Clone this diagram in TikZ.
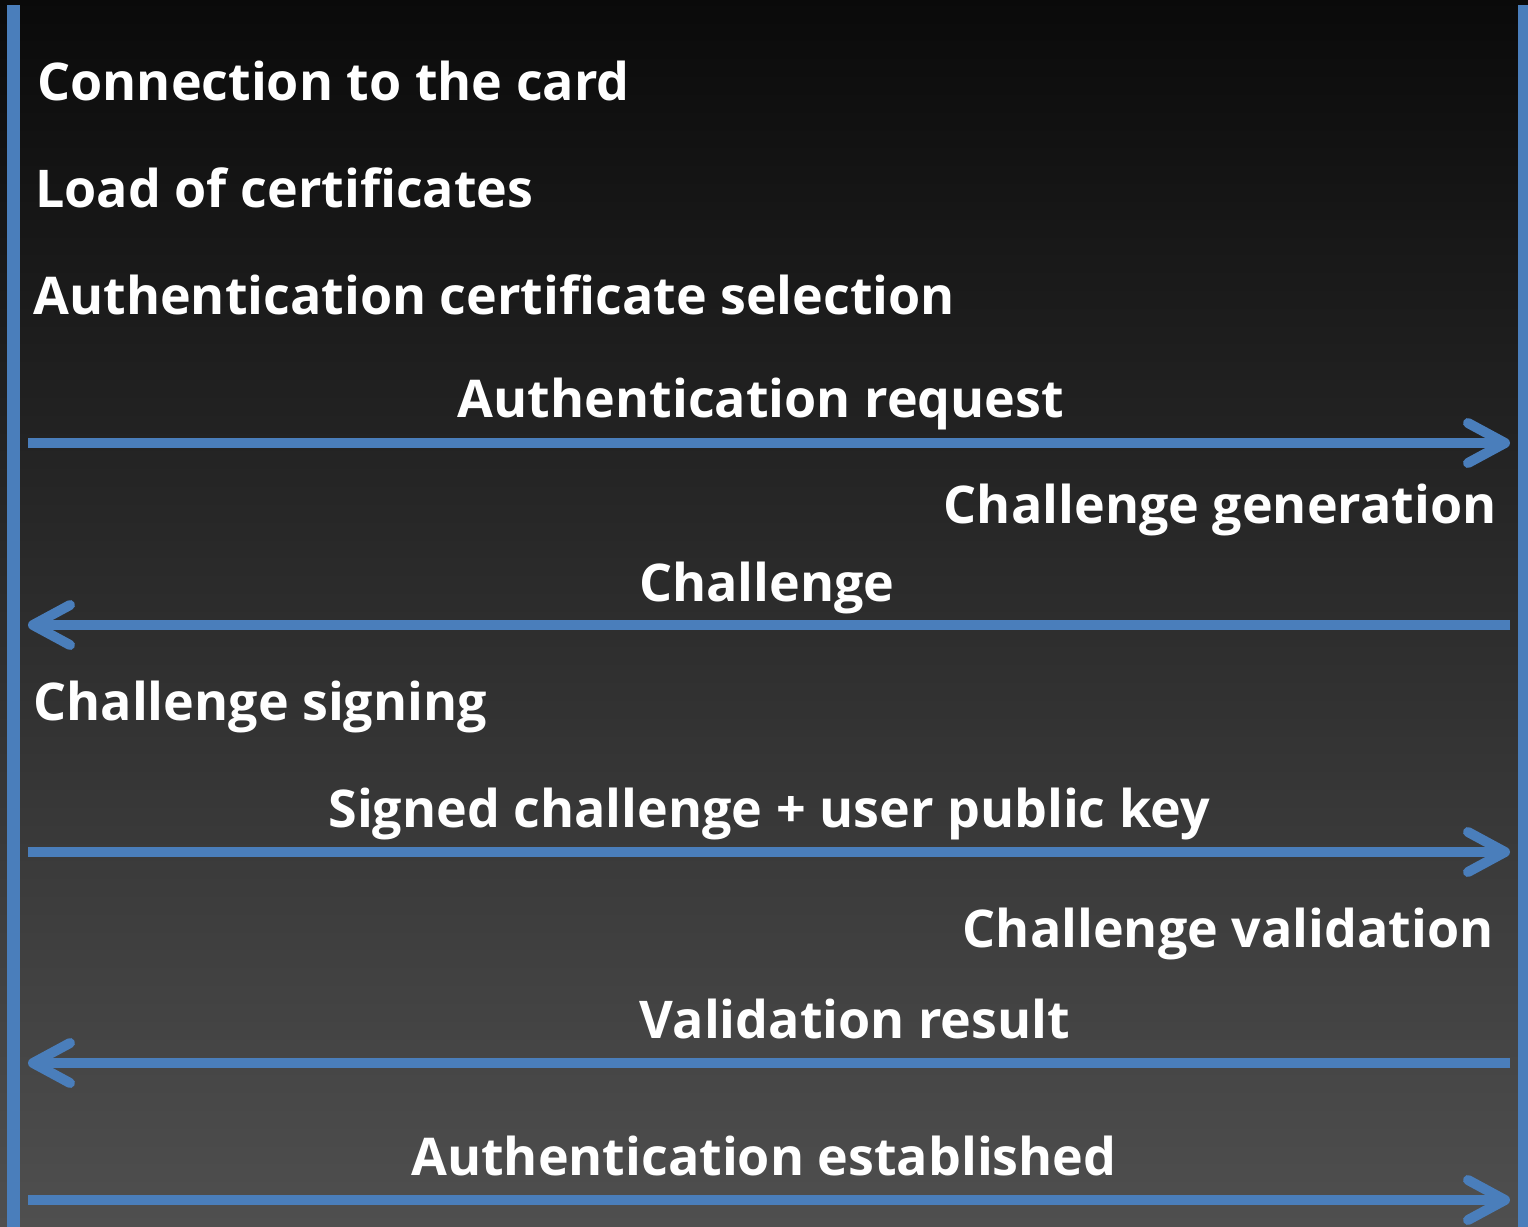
\documentclass[tikz,border=0pt]{standalone}
\usepackage{fontspec}
\setmainfont{Open Sans}
\usepackage{tikz}
\usetikzlibrary{arrows.meta,positioning,calc}
\definecolor{lifeblue}{RGB}{74,126,187}

\begin{document}
\begin{tikzpicture}[x=0.5pt,y=-0.5pt,
          life/.style={lifeblue, line width=6.5pt},
          msg/.style={lifeblue, line width=5pt, -{Straight Barb[length=18.5pt,width=20pt,round]}},
          lbl/.style={white, font=\fontsize{26}{30}\selectfont\bfseries, inner sep=0pt}
        ]
          % background
          \useasboundingbox (0,0) rectangle (1528,1227);
          \shade[top color=black!96, bottom color=black!69] (0,0) rectangle (1528,1227);

          % lifelines
          \coordinate (lt) at (13,5);
          \coordinate (lb) at (13,1227);
          \coordinate (rt) at (1524.5,5);
          \coordinate (rb) at (1524.5,1227);
          \draw[life] (lt) -- (lb);
          \draw[life] (rt) -- (rb);

          % steps on the client side
          \node[lbl, anchor=base west] (conn) at (37,100) {Connection to the card};
          \node[lbl, anchor=base west] (load) at (35,207) {Load of certificates};
          \node[lbl, anchor=base west] (sel) at (33,314) {Authentication certificate selection};
          \node[lbl, anchor=base west] (sign) at (33,720) {Challenge signing};

          % steps on the server side
          \node[lbl, anchor=base east] (gen) at (1497,523) {Challenge generation};
          \node[lbl, anchor=base east] (valid) at (1494,947) {Challenge validation};

          % messages
          \coordinate (a1) at (28,443);   \coordinate (b1) at (1510,443);
          \coordinate (a2) at (28,625);   \coordinate (b2) at (1510,625);
          \coordinate (a3) at (28,852);   \coordinate (b3) at (1510,852);
          \coordinate (a4) at (28,1063);  \coordinate (b4) at (1510,1063);
          \coordinate (a5) at (28,1200);  \coordinate (b5) at (1510,1200);

          \draw[msg] (a1) -- (b1);
          \draw[msg] (b2) -- (a2);
          \draw[msg] (a3) -- (b3);
          \draw[msg] (b4) -- (a4);
          \draw[msg] (a5) -- (b5);

          \node[lbl, anchor=base] (req) at (761,417) {Authentication request};
          \node[lbl, anchor=base] (chal) at (767,601) {Challenge};
          \node[lbl, anchor=base] (signed) at (769,827) {Signed challenge + user public key};
          \node[lbl, anchor=base] (res) at (855,1038) {Validation result};
          \node[lbl, anchor=base] (est) at (764,1175) {Authentication established};
        \end{tikzpicture}
\end{document}
